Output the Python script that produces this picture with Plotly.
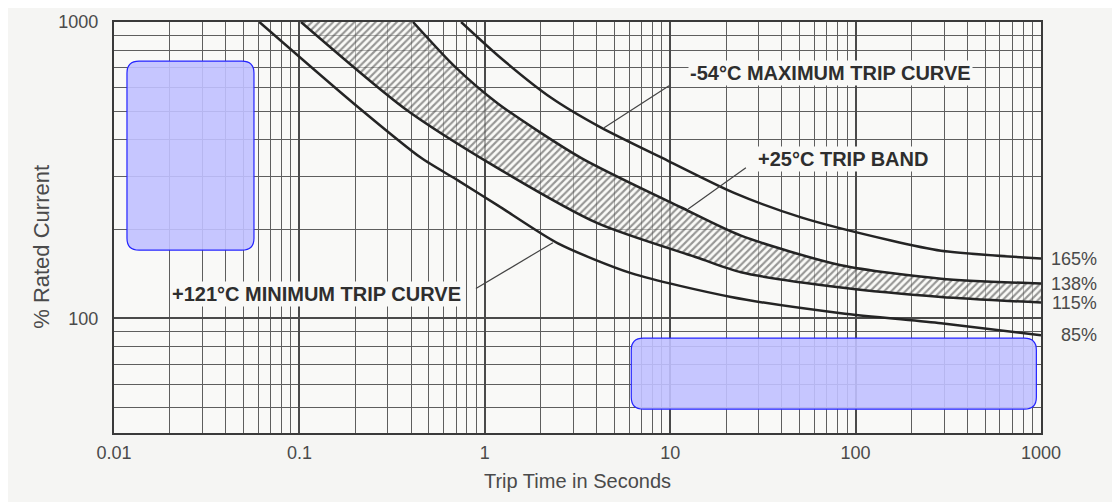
import numpy as np
import plotly.graph_objects as go

# ---- data ----
t_min = [0.0608, 0.197, 0.453, 0.716, 1.18, 2.48, 6.15, 21.3, 83.4, 289, 1000]
i_min = [1000, 530, 348, 292, 240, 179, 142, 118, 104, 96.2, 87.7]

t_band_lo = [0.102, 0.366, 1.12, 4.08, 14.1, 24.1, 83.4, 289, 1000]
i_band_lo = [1000, 513, 327, 209, 160, 143, 127, 118, 113]

t_band_hi = [0.41, 0.683, 1.18, 3.30, 11.4, 24.1, 83.4, 289, 1000]
i_band_hi = [1000, 711, 530, 348, 237, 190, 151, 136, 131]

t_max = [0.745, 1.22, 2.28, 4.24, 9.73, 22.1, 50.8, 155, 289, 1000]
i_max = [1000, 756, 555, 440, 340, 265, 219, 183, 169, 159]

x_ticks = [0.01, 0.1, 1, 10, 100, 1000]
x_ticktext = ["0.01", "0.1", "1", "10", "100", "1000"]
y_ticks = [100, 1000]
y_ticktext = ["100", "1000"]

end_labels = ["165%", "138%", "115%", "85%"]
end_values = [i_max[-1], i_band_hi[-1], i_band_lo[-1], i_min[-1]]

# leader lines: (from text, to curve)
lead_max_t = [9.86, 4.40]
lead_max_i = [609, 440]
lead_band_t = [25.6, 12.5]
lead_band_i = [322, 234]
lead_min_t = [0.896, 2.33]
lead_min_i = [126, 180]

label_max = "-54°C MAXIMUM TRIP CURVE"
label_band = "+25°C TRIP BAND"
label_min = "+121°C MINIMUM TRIP CURVE"

# ---- figure ----
CURVE = "#242424"
LW = 2.5
FONT = "Liberation Sans, Arial, sans-serif"
fig = go.Figure()

spl = dict(shape="spline", smoothing=0.7)
fig.add_trace(go.Scatter(x=t_band_lo, y=i_band_lo, mode="lines",
                         line=dict(color=CURVE, width=LW, **spl),
                         hoverinfo="skip", showlegend=False))
fig.add_trace(go.Scatter(x=t_band_hi, y=i_band_hi, mode="lines", fill="tonexty",
                         fillcolor="rgba(0,0,0,0)",
                         fillpattern=dict(shape="/", fgcolor="#333333", bgcolor="rgba(250,250,248,0.55)",
                                          size=5, solidity=0.42),
                         line=dict(color=CURVE, width=LW, **spl),
                         hoverinfo="skip", showlegend=False))
fig.add_trace(go.Scatter(x=t_max, y=i_max, mode="lines",
                         line=dict(color=CURVE, width=LW, **spl),
                         hoverinfo="skip", showlegend=False))
fig.add_trace(go.Scatter(x=t_min, y=i_min, mode="lines",
                         line=dict(color=CURVE, width=LW, **spl),
                         hoverinfo="skip", showlegend=False))

for lt, li in [(lead_max_t, lead_max_i), (lead_band_t, lead_band_i), (lead_min_t, lead_min_i)]:
    fig.add_trace(go.Scatter(x=lt, y=li, mode="lines", line=dict(color="#444", width=1.2),
                             hoverinfo="skip", showlegend=False))

ann_font = dict(family=FONT, size=20, color="#2e2e2e")
PLOT_BG = "#f9f9f7"
fig.add_annotation(x=np.log10(12.9), y=np.log10(673), text="<b>%s</b>" % label_max, showarrow=False,
                   xanchor="left", yanchor="middle", xshift=-3, font=ann_font, bgcolor=PLOT_BG, borderpad=1)
fig.add_annotation(x=np.log10(30.1), y=np.log10(346), text="<b>%s</b>" % label_band, showarrow=False,
                   xanchor="left", yanchor="middle", xshift=-3, font=ann_font, bgcolor=PLOT_BG, borderpad=1)
fig.add_annotation(x=np.log10(0.0208), y=np.log10(121), text="<b>%s</b>" % label_min, showarrow=False,
                   xanchor="left", yanchor="middle", xshift=-3, font=ann_font, bgcolor=PLOT_BG, borderpad=1)

for txt, val in zip(end_labels, end_values):
    fig.add_annotation(x=1.0, xref="paper", xanchor="right", xshift=58, y=np.log10(val), yref="y",
                       text=txt, showarrow=False,
                       font=dict(family=FONT, size=18, color="#4a4a4a"))

# y axis title as annotation
fig.add_annotation(x=-0.0777, y=0.453, xref="paper", yref="paper", text="% Rated Current",
                   textangle=-90, showarrow=False, xanchor="center", yanchor="middle",
                   font=dict(family=FONT, size=22, color="#4a4a4a"))


# redaction boxes present in the reference (rounded rectangles)
def rounded(x0, x1, y0, y1, rx=0.013, ry=0.029):
    return (f"M {x0+rx},{y0} L {x1-rx},{y0} Q {x1},{y0} {x1},{y0+ry} "
            f"L {x1},{y1-ry} Q {x1},{y1} {x1-rx},{y1} L {x0+rx},{y1} "
            f"Q {x0},{y1} {x0},{y1-ry} L {x0},{y0+ry} Q {x0},{y0} {x0+rx},{y0} Z")


for bx in [(0.014, 0.151, 0.445, 0.905), (0.558, 0.995, 0.058, 0.231)]:
    fig.add_shape(type="path", xref="paper", yref="paper", path=rounded(*bx),
                  fillcolor="rgba(192,192,255,0.9)", line=dict(color="#2424ff", width=1.2), layer="above")

GRID_MAJ = "#4a4a4a"
GRID_MIN = "#5e5e5e"
tickfont = dict(family=FONT, size=18, color="#4a4a4a")

fig.update_xaxes(type="log", range=[-2, 3], tickmode="array", tickvals=x_ticks, ticktext=x_ticktext,
                 showgrid=True, gridcolor=GRID_MAJ, gridwidth=1.6,
                 minor=dict(dtick="D1", showgrid=True, gridcolor=GRID_MIN, gridwidth=1.2, ticks=""),
                 showline=True, linecolor="#3a3a3a", linewidth=2.2, mirror=True,
                 ticks="outside", ticklen=2, tickcolor="rgba(0,0,0,0)", tickfont=tickfont,
                 zeroline=False, automargin=False,
                 title=dict(text="Trip Time in Seconds", standoff=12,
                            font=dict(family=FONT, size=20, color="#4a4a4a")))
fig.update_yaxes(type="log", range=[np.log10(41), 3], tickmode="array", tickvals=y_ticks, ticktext=y_ticktext,
                 showgrid=True, gridcolor=GRID_MAJ, gridwidth=1.6,
                 minor=dict(dtick="D1", showgrid=True, gridcolor=GRID_MIN, gridwidth=1.2, ticks=""),
                 showline=True, linecolor="#3a3a3a", linewidth=2.2, mirror=True,
                 ticks="outside", ticklen=10, tickcolor="rgba(0,0,0,0)", tickfont=tickfont,
                 zeroline=False, automargin=False)

# page body adds an ~8px offset; margins compensate so the plot area lands at x 113-1040, y 21-432
fig.update_layout(width=1120, height=502, margin=dict(l=106, r=87, t=14, b=77, autoexpand=False),
                  paper_bgcolor="#f5f5f3", plot_bgcolor=PLOT_BG, showlegend=False,
                  font=dict(family=FONT))

fig.write_html("out.html")
